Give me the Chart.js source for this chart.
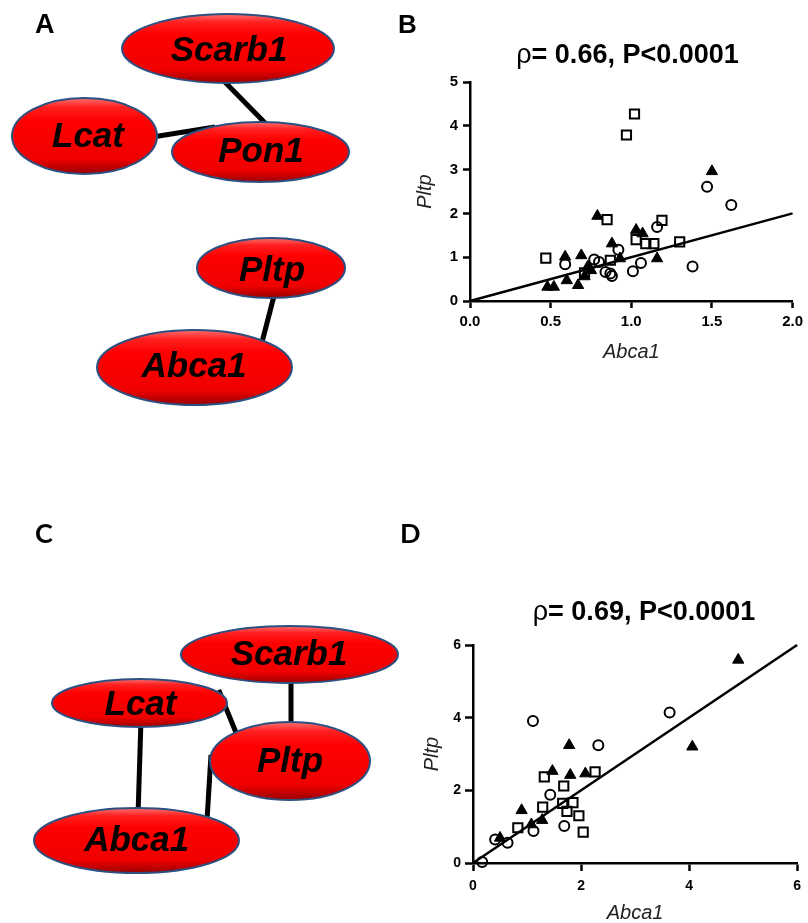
<!DOCTYPE html>
<html>
<head>
<meta charset="utf-8">
<script src="https://cdn.jsdelivr.net/npm/chart.js@4.4.1/dist/chart.umd.min.js"></script>
<style>
body { margin: 0; background: #fff; }
#fig { position: relative; width: 808px; height: 923px; overflow: hidden; background: #fff; }
#fig canvas { position: absolute; }
</style>
</head>
<body>
<div id="fig">
  <canvas id="netA" width="390" height="420" style="left:0;top:0"></canvas>
  <canvas id="netC" width="410" height="423" style="left:0;top:500px"></canvas>
  <canvas id="plotB" width="418" height="380" style="left:390px;top:0"></canvas>
  <canvas id="plotD" width="418" height="413" style="left:390px;top:510px"></canvas>
</div>
<script>
// panel B: Abca1 vs Pltp
const bSquareX = [1.02, 0.97, 0.85, 1.19, 0.47, 1.03, 1.09, 1.14, 1.30, 0.87, 0.71];
const bSquareY = [4.27, 3.79, 1.86, 1.84, 0.98, 1.40, 1.31, 1.31, 1.35, 0.93, 0.64];
const bCircleX = [1.47, 1.62, 1.16, 0.92, 0.59, 0.77, 1.06, 1.01, 1.38, 0.84, 0.87, 0.88, 0.80];
const bCircleY = [2.61, 2.19, 1.69, 1.17, 0.84, 0.95, 0.87, 0.68, 0.79, 0.66, 0.63, 0.57, 0.89];
const bTriX = [1.50, 0.79, 1.03, 1.07, 0.88, 1.16, 0.59, 0.69, 0.93, 0.73, 0.75, 0.71, 0.60, 0.67, 0.48, 0.52];
const bTriY = [2.96, 1.94, 1.62, 1.54, 1.31, 0.97, 1.01, 1.04, 0.97, 0.78, 0.70, 0.56, 0.47, 0.36, 0.32, 0.32];
const bFitX = [0, 2];
const bFitY = [0, 2];
const bXTicks = [0, 0.5, 1.0, 1.5, 2.0];
const bYTicks = [0, 1, 2, 3, 4, 5];
const bTitle = ["\u03c1", "= 0.66, P<0.0001"];

// panel D
const dSquareX = [1.32, 2.26, 1.68, 1.29, 1.66, 1.85, 1.74, 1.96, 2.04, 0.83];
const dSquareY = [2.37, 2.51, 2.12, 1.54, 1.64, 1.66, 1.42, 1.30, 0.85, 0.97];
const dCircleX = [3.64, 1.11, 2.32, 1.43, 1.69, 1.12, 0.41, 0.64, 0.17];
const dCircleY = [4.14, 3.91, 3.24, 1.88, 1.02, 0.88, 0.65, 0.56, 0.03];
const dTriX = [4.91, 4.06, 1.78, 1.47, 1.80, 2.08, 0.90, 1.28, 1.08, 0.50];
const dTriY = [5.59, 3.20, 3.24, 2.53, 2.42, 2.46, 1.45, 1.18, 1.06, 0.69];
const dFitX = [0, 6];
const dFitY = [0, 6];
const dXTicks = [0, 2, 4, 6];
const dYTicks = [0, 2, 4, 6];
const dTitle = ["\u03c1", "= 0.69, P<0.0001"];

// networks A and C
const netANodes = ["Scarb1", "Lcat", "Pon1", "Pltp", "Abca1"];
const netAEdges = [["Scarb1", "Pon1"], ["Lcat", "Pon1"], ["Pltp", "Abca1"]];
const netCNodes = ["Scarb1", "Lcat", "Pltp", "Abca1"];
const netCEdges = [["Scarb1", "Pltp"], ["Lcat", "Pltp"], ["Lcat", "Abca1"], ["Pltp", "Abca1"]];

// layout (canvas units) for the network drawings
const layoutA = {
  nodes: {
    Scarb1: { cx: 228, cy: 48.5, rx: 106, ry: 34.5, tx: 229, ty: 51 },
    Lcat:   { cx: 84.5, cy: 136, rx: 72.5, ry: 38, tx: 88, ty: 137 },
    Pon1:   { cx: 260.5, cy: 152, rx: 88.5, ry: 30, tx: 261, ty: 152.5 },
    Pltp:   { cx: 271, cy: 268, rx: 74, ry: 30, tx: 272, ty: 271 },
    Abca1:  { cx: 194.5, cy: 367.5, rx: 97.5, ry: 37.5, tx: 194, ty: 367.5 }
  },
  edges: {
    "Scarb1-Pon1": [218, 75, 270, 128],
    "Lcat-Pon1": [140, 139, 215, 127],
    "Pltp-Abca1": [275, 292, 260, 350]
  }
};
const layoutC = {
  nodes: {
    Scarb1: { cx: 289.5, cy: 154.5, rx: 108.5, ry: 28.5, tx: 289, ty: 155 },
    Lcat:   { cx: 139.5, cy: 203, rx: 87.5, ry: 24, tx: 140.5, ty: 205 },
    Pltp:   { cx: 290, cy: 261, rx: 80, ry: 39, tx: 290, ty: 262 },
    Abca1:  { cx: 136.5, cy: 340.5, rx: 102.5, ry: 32.5, tx: 136.7, ty: 341.7 }
  },
  edges: {
    "Scarb1-Pltp": [291, 175, 291, 230],
    "Lcat-Pltp": [218.7, 190, 241, 245],
    "Lcat-Abca1": [141, 220, 138, 315],
    "Pltp-Abca1": [211, 255, 207, 320]
  }
};

const SANS = "'Liberation Sans', Arial, sans-serif";
Chart.defaults.font.family = SANS;
Chart.defaults.color = "#000";

function pts(xs, ys) {
  return xs.map((x, i) => ({ x: x, y: ys[i] }));
}

// draws plain text items; an item may be made of parts with different fonts
function textPlugin(items) {
  return {
    id: "panelText",
    afterDraw(chart) {
      const ctx = chart.ctx;
      ctx.save();
      ctx.textBaseline = "alphabetic";
      ctx.fillStyle = "#000";
      items.forEach(t => {
        const parts = t.parts || [{ text: t.text, font: t.font }];
        let total = 0;
        parts.forEach(p => { ctx.font = p.font; p.w = ctx.measureText(p.text).width; total += p.w; });
        let x = t.align === "center" ? t.x - total / 2 : t.x;
        ctx.textAlign = "left";
        parts.forEach(p => {
          ctx.font = p.font;
          ctx.fillText(p.text, x, t.y);
          x += p.w;
        });
      });
      ctx.restore();
    }
  };
}

function networkPlugin(nodes, edges, layout) {
  return {
    id: "network",
    beforeDatasetsDraw(chart) {
      const ctx = chart.ctx;
      const sx = chart.scales.x, sy = chart.scales.y;
      const px = v => sx.getPixelForValue(v);
      const py = v => sy.getPixelForValue(v);

      ctx.save();
      ctx.strokeStyle = "#000";
      ctx.lineWidth = 5;
      edges.forEach(e => {
        const c = layout.edges[e[0] + "-" + e[1]];
        ctx.beginPath();
        ctx.moveTo(px(c[0]), py(c[1]));
        ctx.lineTo(px(c[2]), py(c[3]));
        ctx.stroke();
      });

      nodes.forEach(name => {
        const n = layout.nodes[name];
        const cx = px(n.cx), cy = py(n.cy);
        const rx = Math.abs(px(n.cx + n.rx) - cx);
        const ry = Math.abs(py(n.cy + n.ry) - cy);
        const g = ctx.createLinearGradient(0, cy - ry, 0, cy + ry);
        g.addColorStop(0, "#ff7070");
        g.addColorStop(0.12, "#ff2020");
        g.addColorStop(0.3, "#ff0000");
        g.addColorStop(0.8, "#f00000");
        g.addColorStop(1, "#9a0000");
        ctx.beginPath();
        ctx.ellipse(cx, cy, rx, ry, 0, 0, Math.PI * 2);
        ctx.fillStyle = g;
        ctx.fill();
        ctx.lineWidth = 2;
        ctx.strokeStyle = "#2d5080";
        ctx.stroke();

        ctx.fillStyle = "#000";
        ctx.font = "italic bold 35px " + SANS;
        ctx.textAlign = "center";
        ctx.textBaseline = "middle";
        ctx.fillText(name, px(n.tx), py(n.ty));
      });
      ctx.restore();
    }
  };
}

function makeNetwork(id, w, h, nodes, edges, layout, label) {
  new Chart(document.getElementById(id), {
    type: "scatter",
    data: { datasets: [{ data: [], pointRadius: 0 }] },
    options: {
      responsive: false,
      animation: false,
      events: [],
      layout: { padding: 0 },
      plugins: { legend: { display: false }, tooltip: { enabled: false } },
      scales: {
        x: { type: "linear", display: false, min: 0, max: w },
        y: { type: "linear", display: false, min: 0, max: h, reverse: true }
      }
    },
    plugins: [networkPlugin(nodes, edges, layout), textPlugin([label])]
  });
}

makeNetwork("netA", 390, 420, netANodes, netAEdges, layoutA,
  { text: "A", x: 35, y: 33, font: "bold 27px " + SANS });
makeNetwork("netC", 410, 423, netCNodes, netCEdges, layoutC,
  { text: "C", x: 35, y: 43, font: "bold 27px Lato, 'Open Sans', sans-serif" });

function axisStyle(o) {
  return {
    type: "linear",
    min: o.min,
    max: o.max,
    afterBuildTicks: s => { s.ticks = o.ticks.map(v => ({ value: v })); },
    ticks: {
      font: { size: o.fontSize, weight: "bold" },
      color: "#000",
      padding: o.pad,
      maxRotation: 0,
      autoSkip: false,
      callback: o.fmt
    },
    grid: { drawOnChartArea: false, drawTicks: true, tickLength: o.tickLen, tickWidth: 2.5, color: "#000" },
    border: { display: true, color: "#000", width: 2.5 },
    title: {
      display: true,
      text: o.title,
      color: "#222",
      font: { size: 20, style: "italic", lineHeight: 1 },
      padding: o.titlePad
    },
    afterFit: o.fit
  };
}

function makeScatter(id, d) {
  new Chart(document.getElementById(id), {
    type: "scatter",
    data: {
      datasets: [
        { data: pts(d.fitX, d.fitY), showLine: true, pointRadius: 0, borderColor: "#000", borderWidth: 2.5, clip: false },
        { data: pts(d.circleX, d.circleY), pointStyle: "circle", pointRadius: 5, borderWidth: 2,
          borderColor: "#000", backgroundColor: "rgba(0,0,0,0)", clip: false },
        { data: pts(d.squareX, d.squareY), pointStyle: "rect", pointRadius: 6.5, borderWidth: 2,
          borderColor: "#000", backgroundColor: "rgba(0,0,0,0)", clip: false },
        { data: pts(d.triX, d.triY), pointStyle: "triangle", pointRadius: 6.5, borderWidth: 1,
          borderColor: "#000", backgroundColor: "#000", clip: false }
      ]
    },
    options: {
      responsive: false,
      animation: false,
      events: [],
      layout: { padding: d.padding },
      plugins: { legend: { display: false }, tooltip: { enabled: false } },
      scales: { x: d.x, y: d.y }
    },
    plugins: [textPlugin(d.texts)]
  });
}

function titleItem(t, x, y) {
  return {
    align: "center", x: x, y: y,
    parts: [
      { text: t[0], font: "27px " + SANS },
      { text: t[1], font: "bold 27px " + SANS }
    ]
  };
}

makeScatter("plotB", {
  fitX: bFitX, fitY: bFitY,
  circleX: bCircleX, circleY: bCircleY,
  squareX: bSquareX, squareY: bSquareY,
  triX: bTriX, triY: bTriY,
  padding: { top: 82, right: 11, bottom: 0, left: 0 },
  x: axisStyle({ min: 0, max: 2, ticks: bXTicks, fontSize: 15, pad: 5, tickLen: 7,
    fmt: v => Number(v).toFixed(1), title: "Abca1", titlePad: { top: 0, bottom: 18 },
    fit: s => { s.height = 79; } }),
  y: axisStyle({ min: 0, max: 5, ticks: bYTicks, fontSize: 15, pad: 5, tickLen: 7,
    fmt: v => String(v), title: "Pltp", titlePad: { top: 25.5, bottom: 0 },
    fit: s => { s.width = 80; } }),
  texts: [
    { text: "B", x: 8, y: 33, font: "bold 26px " + SANS },
    titleItem(bTitle, 237.5, 63)
  ]
});

makeScatter("plotD", {
  fitX: dFitX, fitY: dFitY,
  circleX: dCircleX, circleY: dCircleY,
  squareX: dSquareX, squareY: dSquareY,
  triX: dTriX, triY: dTriY,
  padding: { top: 135, right: 5, bottom: 0, left: 0 },
  x: axisStyle({ min: 0, max: 6, ticks: dXTicks, fontSize: 14, pad: 7, tickLen: 8,
    fmt: v => String(v), title: "Abca1", titlePad: { top: 0, bottom: 0 },
    fit: s => { s.height = 60; } }),
  y: axisStyle({ min: 0, max: 6, ticks: dYTicks, fontSize: 14, pad: 4, tickLen: 8,
    fmt: v => String(v), title: "Pltp", titlePad: { top: 32.5, bottom: 0 },
    fit: s => { s.width = 83; } }),
  texts: [
    { text: "D", x: 10, y: 33, font: "bold 27px Lato, 'Open Sans', sans-serif" },
    titleItem(dTitle, 254, 110)
  ]
});
</script>
</body>
</html>
